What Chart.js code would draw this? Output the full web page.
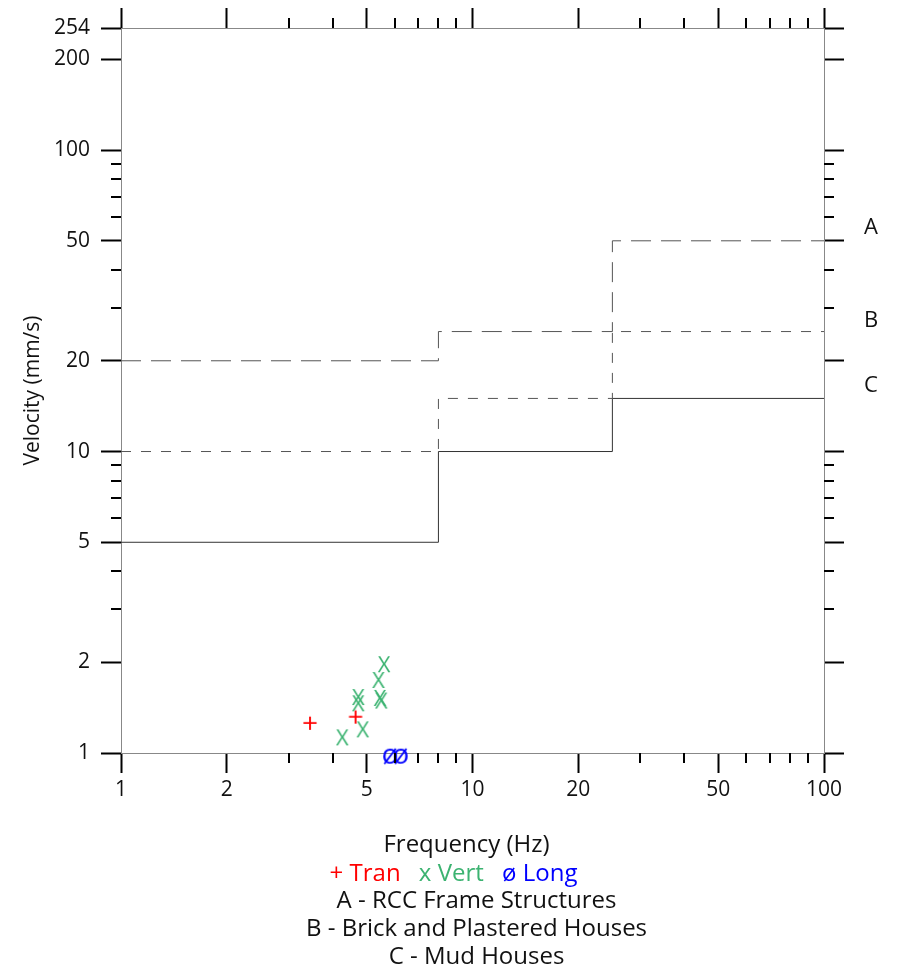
<!DOCTYPE html>
<html>
<head>
<meta charset="utf-8">
<script src="https://cdn.jsdelivr.net/npm/chart.js@4"></script>
<style>
  body { margin: 0; background: #fff; }
  #wrap { position: relative; width: 901px; height: 971px; font-family: "Open Sans", sans-serif; }
  #chart { position: absolute; left: 0; top: 0; }
  .bottom { position: absolute; left: 26px; width: 901px; text-align: center; font-size: 24px; line-height: 28px; color: #111; }
  .side { position: absolute; left: 864px; font-size: 22px; line-height: 28px; color: #111; }
</style>
</head>
<body>
<div id="wrap">
  <canvas id="chart" width="901" height="971"></canvas>
  <div class="bottom" style="top:829px; left:16px;">Frequency (Hz)</div>
  <div class="bottom" style="top:858px; left:3px;">
    <span style="color:#ff0000">+ Tran</span>
    <span style="color:#3cb371; margin-left:12px">x Vert</span>
    <span style="color:#0000ff; margin-left:12px">ø Long</span>
  </div>
  <div class="bottom" style="top:885px;">A - RCC Frame Structures</div>
  <div class="bottom" style="top:913px;">B - Brick and Plastered Houses</div>
  <div class="bottom" style="top:941px;">C - Mud Houses</div>
  <div class="side" style="top:211px;">A</div>
  <div class="side" style="top:304px;">B</div>
  <div class="side" style="top:369px;">C</div>
</div>
<script>
// measured points
const tranFreq = [3.45, 4.65];
const tranVel = [1.24, 1.30];
const vertFreq = [5.6, 5.4, 4.73, 4.73, 5.45, 5.5, 4.87, 4.26];
const vertVel = [1.94, 1.72, 1.51, 1.44, 1.50, 1.47, 1.18, 1.11];
const longFreq = [5.83, 6.25];
const longVel = [0.98, 0.98];

// damage limits (step lines), frequency band edges
const limitFreq = [1, 8, 25, 100];
const limitA = [20, 25, 50];
const limitB = [10, 15, 25];
const limitC = [5, 10, 15];

// axis ticks
const xMajor = [1, 2, 5, 10, 20, 50, 100];
const xMinor = [3, 4, 6, 7, 8, 9, 30, 40, 60, 70, 80, 90];
const yMajor = [1, 2, 5, 10, 20, 50, 100, 200, 254];
const yMinor = [3, 4, 6, 7, 8, 9, 30, 40, 60, 70, 80, 90];

function glyph(ch, color, size) {
    const c = document.createElement('canvas');
    c.width = 34;
    c.height = 34;
    const g = c.getContext('2d');
    g.font = size + 'px "Open Sans"';
    g.fillStyle = color;
    g.textAlign = 'center';
    g.textBaseline = 'middle';
    g.fillText(ch, 17, 17);
    return c;
}

function points(xs, ys) {
    return xs.map((x, i) => ({ x: x, y: ys[i] }));
}

function stepLine(vals) {
    const pts = vals.map((v, i) => ({ x: limitFreq[i], y: v }));
    pts.push({ x: limitFreq[limitFreq.length - 1], y: vals[vals.length - 1] });
    return pts;
}

// short outward ticks for the minor values
const minorTicks = {
    id: 'minorTicks',
    afterDraw(chart) {
        const ctx = chart.ctx;
        const a = chart.chartArea;
        const sx = chart.scales.x, sy = chart.scales.y;
        ctx.save();
        ctx.strokeStyle = '#000';
        ctx.lineWidth = 2;
        ctx.beginPath();
        xMinor.forEach(v => {
            const px = Math.round(sx.getPixelForValue(v));
            ctx.moveTo(px, a.bottom); ctx.lineTo(px, a.bottom + 10);
            ctx.moveTo(px, a.top); ctx.lineTo(px, a.top - 10);
        });
        yMinor.forEach(v => {
            const py = Math.round(sy.getPixelForValue(v));
            ctx.moveTo(a.left, py); ctx.lineTo(a.left - 10, py);
            ctx.moveTo(a.right, py); ctx.lineTo(a.right + 10, py);
        });
        ctx.stroke();
        ctx.restore();
    }
};

const tickFont = { family: 'Open Sans', size: 21 };
const gridOpts = { drawOnChartArea: false, tickLength: 20, tickWidth: 2, tickColor: '#000' };
const borderOpts = { display: true, color: '#888', width: 1 };

function fixTicks(values) {
    return scale => { scale.ticks = values.map(v => ({ value: v })); };
}

new Chart(document.getElementById('chart'), {
    type: 'scatter',
    data: {
        datasets: [
            { label: 'A', type: 'line', data: stepLine(limitA), stepped: true, borderColor: '#555', borderWidth: 1, borderDash: [20, 10], pointRadius: 0, fill: false },
            { label: 'B', type: 'line', data: stepLine(limitB), stepped: true, borderColor: '#555', borderWidth: 1, borderDash: [10, 10], pointRadius: 0, fill: false },
            { label: 'C', type: 'line', data: stepLine(limitC), stepped: true, borderColor: '#333', borderWidth: 1, pointRadius: 0, fill: false },
            { label: 'Tran', data: points(tranFreq, tranVel), pointStyle: glyph('+', '#ff0000', 28), clip: false },
            { label: 'Vert', data: points(vertFreq, vertVel), pointStyle: glyph('X', '#3cb371', 22), clip: false },
            { label: 'Long', data: points(longFreq, longVel), pointStyle: glyph('ø', '#0000ff', 28), clip: false }
        ]
    },
    options: {
        responsive: false,
        animation: false,
        layout: { padding: 0 },
        plugins: { legend: { display: false }, tooltip: { enabled: false } },
        scales: {
            x: {
                type: 'logarithmic', position: 'bottom', min: 1, max: 100,
                afterBuildTicks: fixTicks(xMajor),
                afterFit: s => { s.height = 971 - 753; },
                ticks: { autoSkip: false, maxRotation: 0, padding: 4, color: '#111', font: tickFont, callback: v => String(v) },
                grid: gridOpts, border: borderOpts
            },
            x2: {
                type: 'logarithmic', position: 'top', min: 1, max: 100,
                afterBuildTicks: fixTicks(xMajor),
                afterFit: s => { s.height = 28; },
                ticks: { display: false },
                grid: gridOpts, border: borderOpts
            },
            y: {
                type: 'logarithmic', position: 'left', min: 1, max: 254,
                afterBuildTicks: fixTicks(yMajor),
                afterFit: s => { s.width = 121; },
                ticks: { autoSkip: false, padding: 11, color: '#111', font: tickFont, callback: v => String(v) },
                title: { display: true, text: 'Velocity (mm/s)', color: '#111', font: { family: 'Open Sans', size: 21 }, padding: { top: 20 } },
                grid: gridOpts, border: borderOpts
            },
            y2: {
                type: 'logarithmic', position: 'right', min: 1, max: 254,
                afterBuildTicks: fixTicks(yMajor),
                afterFit: s => { s.width = 901 - 824; },
                ticks: { display: false },
                grid: gridOpts, border: borderOpts
            }
        }
    },
    plugins: [minorTicks]
});
</script>
</body>
</html>
